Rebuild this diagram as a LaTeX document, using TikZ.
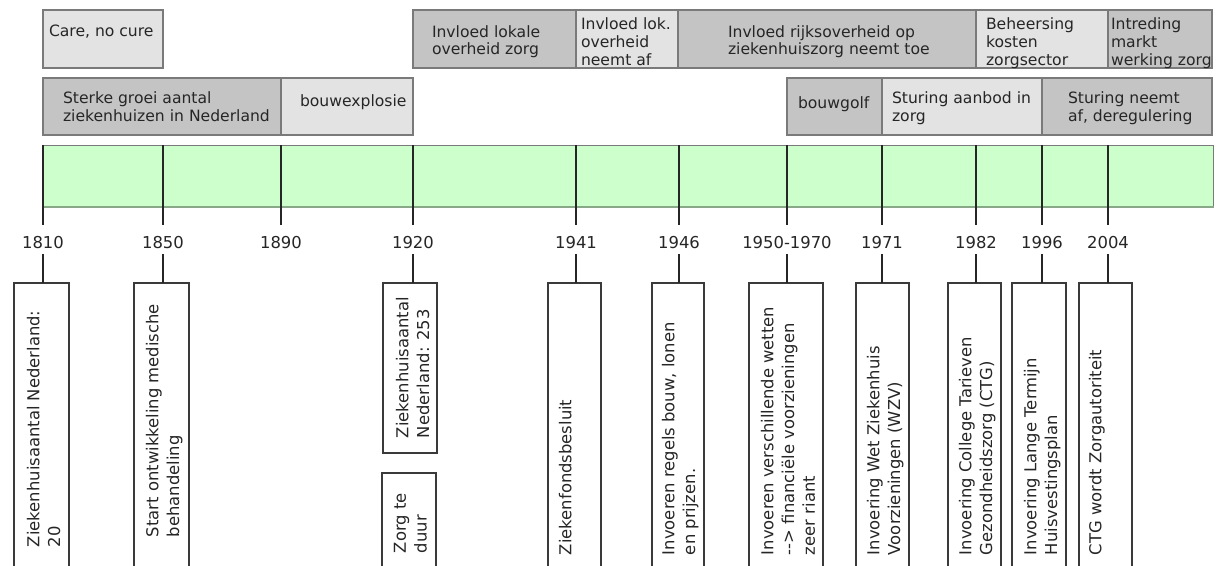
\documentclass[tikz,border=0pt]{standalone}
\usepackage{fontspec}
\setmainfont{DejaVu Sans}
\definecolor{darkfill}{HTML}{C4C4C4}
\definecolor{lightfill}{HTML}{E3E3E3}
\definecolor{boxline}{HTML}{7A7A7A}
\definecolor{bandfill}{HTML}{CCFFCC}
\definecolor{bandline}{HTML}{88A888}
\definecolor{txtcol}{HTML}{262626}
\definecolor{evline}{HTML}{3A3A3A}
\newcommand\fs[1]{\fontsize{11.7}{#1}\selectfont}
\newcommand\fsv[1]{\fontsize{12.3}{#1}\selectfont}
\newcommand\mkbox[6]{\node[#1, minimum width={(#4-#2)*0.75pt}, minimum height={(#5-#3)*0.75pt}] (#6) at (#2,#3) {};}
\tikzset{
 boxbase/.style={rectangle, draw=boxline, line width=0.9pt, inner sep=0pt, outer sep=0pt, anchor=north west},
 darkbox/.style={boxbase, fill=darkfill},
 lightbox/.style={boxbase, fill=lightfill},
 evbox/.style={rectangle, draw=evline, line width=0.9pt, fill=white, inner sep=0pt, outer sep=0pt, anchor=north west},
 txt/.style={anchor=north west, inner sep=0pt, outer sep=0pt, align=left, text=txtcol, font=\fs{14pt}},
 vtxt/.style={txt, rotate=90, font=\fsv{15.5pt}},
 yr/.style={inner sep=0pt, text=txtcol, font=\fsv{14pt}},
 tickline/.style={draw=black!85, line width=0.9pt},
}
\begin{document}
\begin{tikzpicture}[x=0.75pt,y=-0.75pt]
\useasboundingbox (0,0) rectangle (1223,565);
\clip (0,0) rectangle (1223,565);
\fill[white] (0,0) rectangle (1223,565);

% top row
\mkbox{lightbox}{43}{10}{163}{68}{care}
\mkbox{darkbox}{413}{10}{576}{68}{lok}
\mkbox{lightbox}{576}{10}{678}{68}{lokaf}
\mkbox{darkbox}{678}{10}{976}{68}{rijk}
\mkbox{lightbox}{976}{10}{1108}{68}{beh}
\mkbox{darkbox}{1108}{10}{1212}{68}{markt}
\node[txt, font=\fs{12.5pt}] (tcare) at (49,25) {Care, no cure};
\node[txt, font=\fs{12.5pt}] (tlok) at (432,26) {Invloed lokale\\overheid zorg};
\node[txt, font=\fs{13.5pt}] (tlokaf) at (581,18) {Invloed lok.\\overheid\\neemt af};
\node[txt, font=\fs{12.5pt}] (trijk) at (728,26) {Invloed rijksoverheid op\\ziekenhuiszorg neemt toe};
\node[txt, font=\fs{13.5pt}] (tbeh) at (986,18) {Beheersing\\kosten\\zorgsector};
\node[txt, font=\fs{13.5pt}] (tmarkt) at (1111,18) {Intreding\\markt\\werking zorg};

% second row
\mkbox{darkbox}{43}{78}{281}{135}{groei}
\mkbox{lightbox}{281}{78}{413}{135}{explo}
\mkbox{darkbox}{787}{78}{882}{135}{golf}
\mkbox{lightbox}{882}{78}{1042}{135}{aanbod}
\mkbox{darkbox}{1042}{78}{1212}{135}{dereg}
\node[txt, font=\fs{13.5pt}] (tgroei) at (63,92) {Sterke groei aantal\\ziekenhuizen in Nederland};
\node[txt] (texplo) at (300,95) {bouwexplosie};
\node[txt] (tgolf) at (798,97) {bouwgolf};
\node[txt, font=\fs{13.5pt}] (taanbod) at (892,92) {Sturing aanbod in\\zorg};
\node[txt, font=\fs{13.5pt}] (tdereg) at (1068,92) {Sturing neemt\\af, deregulering};

% band
\node[rectangle, draw=boxline, fill=bandfill, line width=0.9pt, anchor=north west, inner sep=0pt,
      minimum width={1170*0.75pt}, minimum height={61*0.75pt}] (band) at (43,145) {};
\draw[bandline, line width=1.4pt] (band.south west) -- (band.south east);

% years and upper ticks
\foreach \yx/\yn/\ylab in {43/1810/1810, 163/1850/1850, 281/1890/1890, 413/1920/1920, 576/1941/1941,
  679/1946/1946, 787/1950/1950-1970, 882/1971/1971, 976/1982/1982, 1042/1996/1996, 1108/2004/2004}{
  \node[yr] (l\yn) at (\yx,243) {\ylab};
  \coordinate (u\yn) at (\yx,225);
  \coordinate (d\yn) at (\yx,254);
  \draw[tickline] (u\yn |- band.north) -- (u\yn);
}

% event boxes
\mkbox{evbox}{14}{283}{69}{600}{b1810}
\mkbox{evbox}{134}{283}{189}{600}{b1850}
\mkbox{evbox}{383}{283}{437}{453}{b1920}
\mkbox{evbox}{382}{473}{436}{600}{b1920b}
\mkbox{evbox}{548}{283}{601}{600}{b1941}
\mkbox{evbox}{652}{283}{704}{600}{b1946}
\mkbox{evbox}{749}{283}{823}{600}{b1950}
\mkbox{evbox}{856}{283}{909}{600}{b1971}
\mkbox{evbox}{948}{283}{1001}{600}{b1982}
\mkbox{evbox}{1012}{283}{1066}{600}{b1996}
\mkbox{evbox}{1079}{283}{1132}{600}{b2004}

% lower ticks
\foreach \yn in {1810,1850,1920,1941,1946,1950,1971,1982,1996,2004}{
  \draw[tickline] (d\yn) -- (d\yn |- b\yn.north);
}

% event texts
\node[vtxt] (e1810) at (27,547) {Ziekenhuisaantal Nederland:\\20};
\node[vtxt] (e1850) at (146,537) {Start ontwikkeling medische\\behandeling};
\node[vtxt] (e1920) at (396,438) {Ziekenhuisaantal\\Nederland: 253};
\node[vtxt] (e1920b) at (394,553) {Zorg te\\duur};
\node[vtxt] (e1941) at (559,555) {Ziekenfondsbesluit};
\node[vtxt] (e1946) at (662,555) {Invoeren regels bouw, lonen\\en prijzen.};
\node[vtxt] (e1950) at (761,555) {Invoeren verschillende wetten\\-{}-{}> financiële voorzieningen\\zeer riant};
\node[vtxt] (e1971) at (867,555) {Invoering Wet Ziekenhuis\\Voorzieningen (WZV)};
\node[vtxt] (e1982) at (959,555) {Invoering College Tarieven\\Gezondheidszorg (CTG)};
\node[vtxt] (e1996) at (1024,555) {Invoering Lange Termijn\\Huisvestingsplan};
\node[vtxt] (e2004) at (1089,555) {CTG wordt Zorgautoriteit};
\end{tikzpicture}
\end{document}
